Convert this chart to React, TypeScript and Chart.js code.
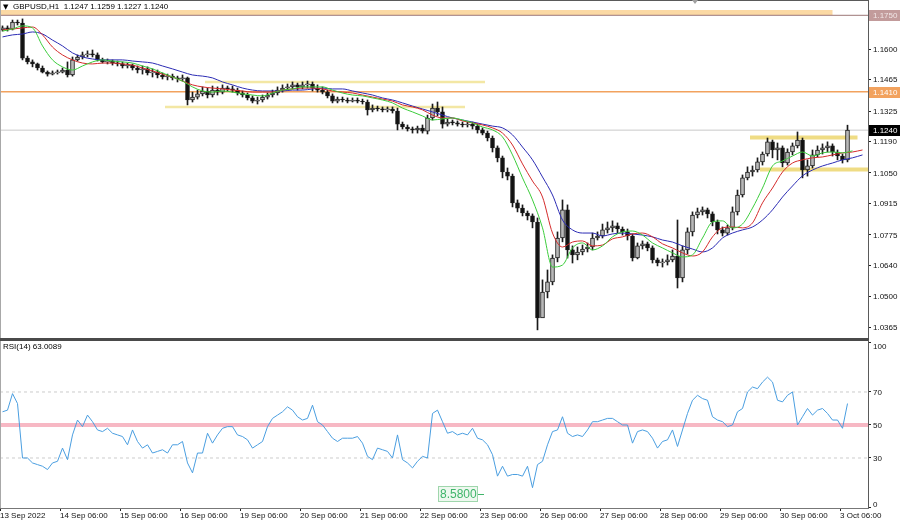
import React, { useEffect, useRef } from "react";
import { Chart, registerables } from "chart.js";

Chart.register(...registerables);

const FONT = '"Liberation Sans", Arial, sans-serif';

// ---------- data ----------
const symbolTitle = "GBPUSD,H1  1.1247 1.1259 1.1227 1.1240";
const rsiTitle = "RSI(14) 63.0089";

// two-hour candles (index i -> hour 1 + 2i from 13 Sep 06:00)
const openP = [
  1.1685, 1.1694, 1.1689, 1.1720, 1.1716, 1.1560, 1.1543, 1.1534, 1.1516, 1.1498,
  1.1489, 1.1494, 1.1498, 1.1507, 1.1485, 1.1552, 1.1565, 1.1574, 1.1578, 1.1574,
  1.1552, 1.1543, 1.1547, 1.1538, 1.1534, 1.1525, 1.1529, 1.1516, 1.1507, 1.1512,
  1.1494, 1.1498, 1.1485, 1.1476, 1.1480, 1.1472, 1.1467, 1.1472, 1.1374, 1.1387,
  1.1401, 1.1414, 1.1396, 1.1418, 1.1409, 1.1427, 1.1423, 1.1418, 1.1405, 1.1396,
  1.1383, 1.1369, 1.1374, 1.1387, 1.1396, 1.1405, 1.1418, 1.1427, 1.1432, 1.1441,
  1.1432, 1.1441, 1.1445, 1.1427, 1.1418, 1.1409, 1.1392, 1.1369, 1.1378, 1.1374,
  1.1369, 1.1374, 1.1369, 1.1365, 1.1330, 1.1338, 1.1334, 1.1330, 1.1334, 1.1325,
  1.1267, 1.1254, 1.1245, 1.1241, 1.1249, 1.1236, 1.1294, 1.1338, 1.1321, 1.1267,
  1.1276, 1.1272, 1.1267, 1.1263, 1.1267, 1.1258, 1.1241, 1.1227, 1.1205, 1.1161,
  1.1117, 1.1054, 1.1036, 1.0917, 1.0894, 1.0872, 1.0859, 1.0832, 1.0406, 1.0521,
  1.0566, 1.0672, 1.0761, 1.0886, 1.0708, 1.0686, 1.0699, 1.0712, 1.0721, 1.0761,
  1.0770, 1.0797, 1.0806, 1.0815, 1.0801, 1.0788, 1.0770, 1.0672, 1.0726, 1.0735,
  1.0717, 1.0664, 1.0650, 1.0655, 1.0664, 1.0681, 1.0584, 1.0708, 1.0788, 1.0863,
  1.0877, 1.0886, 1.0868, 1.0832, 1.0797, 1.0783, 1.0806, 1.0877, 1.0952, 1.1028,
  1.1054, 1.1063, 1.1099, 1.1134, 1.1188, 1.1152, 1.1161, 1.1094, 1.1143, 1.1170,
  1.1196, 1.1063, 1.1081, 1.1130, 1.1152, 1.1161, 1.1170, 1.1143, 1.1125, 1.1108,
];
const highP = [
  1.1703, 1.1703, 1.1729, 1.1729, 1.1734, 1.1569, 1.1552, 1.1538, 1.1525, 1.1503,
  1.1503, 1.1507, 1.1516, 1.1543, 1.1565, 1.1574, 1.1587, 1.1592, 1.1596, 1.1583,
  1.1560, 1.1556, 1.1552, 1.1547, 1.1543, 1.1538, 1.1534, 1.1525, 1.1525, 1.1521,
  1.1512, 1.1507, 1.1494, 1.1489, 1.1489, 1.1480, 1.1485, 1.1476, 1.1409, 1.1418,
  1.1432, 1.1427, 1.1436, 1.1432, 1.1441, 1.1436, 1.1436, 1.1427, 1.1414, 1.1405,
  1.1392, 1.1387, 1.1396, 1.1405, 1.1418, 1.1432, 1.1441, 1.1445, 1.1454, 1.1449,
  1.1454, 1.1458, 1.1454, 1.1441, 1.1432, 1.1418, 1.1401, 1.1387, 1.1387, 1.1383,
  1.1383, 1.1383, 1.1378, 1.1374, 1.1352, 1.1347, 1.1343, 1.1343, 1.1343, 1.1338,
  1.1276, 1.1263, 1.1254, 1.1258, 1.1263, 1.1307, 1.1356, 1.1365, 1.1343, 1.1290,
  1.1285, 1.1281, 1.1276, 1.1276, 1.1276, 1.1267, 1.1250, 1.1236, 1.1214, 1.1170,
  1.1125, 1.1072, 1.1045, 1.0930, 1.0908, 1.0881, 1.0868, 1.0850, 1.0575, 1.0619,
  1.0686, 1.0788, 1.0930, 1.0908, 1.0726, 1.0721, 1.0730, 1.0739, 1.0783, 1.0788,
  1.0823, 1.0832, 1.0837, 1.0828, 1.0810, 1.0801, 1.0779, 1.0739, 1.0748, 1.0743,
  1.0726, 1.0672, 1.0668, 1.0686, 1.0708, 1.0841, 1.0726, 1.0806, 1.0877, 1.0894,
  1.0899, 1.0894, 1.0877, 1.0841, 1.0810, 1.0819, 1.0899, 1.0974, 1.1041, 1.1077,
  1.1081, 1.1117, 1.1143, 1.1205, 1.1196, 1.1183, 1.1170, 1.1157, 1.1183, 1.1232,
  1.1205, 1.1108, 1.1152, 1.1170, 1.1179, 1.1188, 1.1179, 1.1152, 1.1134, 1.1262,
];
const lowP = [
  1.1680, 1.1680, 1.1685, 1.1707, 1.1552, 1.1534, 1.1521, 1.1507, 1.1494, 1.1480,
  1.1485, 1.1489, 1.1494, 1.1476, 1.1480, 1.1547, 1.1556, 1.1565, 1.1565, 1.1547,
  1.1538, 1.1534, 1.1529, 1.1525, 1.1516, 1.1516, 1.1507, 1.1494, 1.1489, 1.1485,
  1.1476, 1.1472, 1.1467, 1.1463, 1.1463, 1.1454, 1.1458, 1.1352, 1.1365, 1.1378,
  1.1392, 1.1383, 1.1387, 1.1396, 1.1401, 1.1414, 1.1409, 1.1396, 1.1387, 1.1374,
  1.1361, 1.1356, 1.1365, 1.1378, 1.1387, 1.1396, 1.1409, 1.1418, 1.1423, 1.1418,
  1.1423, 1.1427, 1.1414, 1.1409, 1.1401, 1.1383, 1.1361, 1.1361, 1.1365, 1.1361,
  1.1365, 1.1361, 1.1356, 1.1307, 1.1321, 1.1325, 1.1321, 1.1321, 1.1316, 1.1241,
  1.1245, 1.1236, 1.1227, 1.1227, 1.1227, 1.1223, 1.1285, 1.1303, 1.1249, 1.1258,
  1.1263, 1.1258, 1.1254, 1.1254, 1.1245, 1.1227, 1.1219, 1.1192, 1.1143, 1.1099,
  1.1028, 1.1019, 1.0899, 1.0877, 1.0859, 1.0841, 1.0806, 1.0353, 1.0464, 1.0495,
  1.0553, 1.0655, 1.0744, 1.0672, 1.0650, 1.0664, 1.0686, 1.0699, 1.0708, 1.0752,
  1.0761, 1.0783, 1.0788, 1.0783, 1.0774, 1.0752, 1.0659, 1.0668, 1.0712, 1.0704,
  1.0650, 1.0637, 1.0632, 1.0641, 1.0655, 1.0539, 1.0566, 1.0690, 1.0770, 1.0850,
  1.0863, 1.0850, 1.0815, 1.0779, 1.0770, 1.0774, 1.0797, 1.0863, 1.0943, 1.1019,
  1.1036, 1.1054, 1.1085, 1.1125, 1.1117, 1.1108, 1.1077, 1.1085, 1.1130, 1.1161,
  1.1028, 1.1036, 1.1072, 1.1121, 1.1134, 1.1143, 1.1125, 1.1108, 1.1094, 1.1099,
];
const closeP = [
  1.1694, 1.1689, 1.1720, 1.1716, 1.1560, 1.1543, 1.1534, 1.1516, 1.1498, 1.1489,
  1.1494, 1.1498, 1.1507, 1.1485, 1.1552, 1.1565, 1.1574, 1.1578, 1.1574, 1.1552,
  1.1543, 1.1547, 1.1538, 1.1534, 1.1525, 1.1529, 1.1516, 1.1507, 1.1512, 1.1494,
  1.1498, 1.1485, 1.1476, 1.1480, 1.1472, 1.1467, 1.1472, 1.1374, 1.1387, 1.1401,
  1.1414, 1.1396, 1.1418, 1.1409, 1.1427, 1.1423, 1.1418, 1.1405, 1.1396, 1.1383,
  1.1369, 1.1374, 1.1387, 1.1396, 1.1405, 1.1418, 1.1427, 1.1432, 1.1441, 1.1432,
  1.1441, 1.1445, 1.1427, 1.1418, 1.1409, 1.1392, 1.1369, 1.1378, 1.1374, 1.1369,
  1.1374, 1.1369, 1.1365, 1.1330, 1.1338, 1.1334, 1.1330, 1.1334, 1.1325, 1.1267,
  1.1254, 1.1245, 1.1241, 1.1249, 1.1236, 1.1294, 1.1338, 1.1321, 1.1267, 1.1276,
  1.1272, 1.1267, 1.1263, 1.1267, 1.1258, 1.1241, 1.1227, 1.1205, 1.1161, 1.1117,
  1.1054, 1.1036, 1.0917, 1.0894, 1.0872, 1.0859, 1.0832, 1.0406, 1.0521, 1.0566,
  1.0672, 1.0761, 1.0886, 1.0708, 1.0686, 1.0699, 1.0712, 1.0721, 1.0761, 1.0770,
  1.0797, 1.0806, 1.0815, 1.0801, 1.0788, 1.0770, 1.0672, 1.0726, 1.0735, 1.0717,
  1.0664, 1.0650, 1.0655, 1.0664, 1.0681, 1.0584, 1.0708, 1.0788, 1.0863, 1.0877,
  1.0886, 1.0868, 1.0832, 1.0797, 1.0783, 1.0806, 1.0877, 1.0952, 1.1028, 1.1054,
  1.1063, 1.1099, 1.1134, 1.1188, 1.1152, 1.1161, 1.1094, 1.1143, 1.1170, 1.1196,
  1.1063, 1.1081, 1.1130, 1.1152, 1.1161, 1.1170, 1.1143, 1.1125, 1.1108, 1.1240,
];

// Alligator lines sampled every 4 hours (sample k -> hour 1 + 4k)
const lipsGreen = [
  1.1680, 1.1689, 1.1703, 1.1694, 1.1614, 1.1552, 1.1521, 1.1507, 1.1525, 1.1543,
  1.1552, 1.1547, 1.1543, 1.1538, 1.1525, 1.1512, 1.1494, 1.1476, 1.1458, 1.1432,
  1.1414, 1.1409, 1.1414, 1.1409, 1.1401, 1.1396, 1.1392, 1.1405, 1.1418, 1.1423,
  1.1432, 1.1432, 1.1432, 1.1418, 1.1405, 1.1396, 1.1392, 1.1383, 1.1374, 1.1361,
  1.1338, 1.1321, 1.1303, 1.1285, 1.1290, 1.1294, 1.1285, 1.1272, 1.1254, 1.1241,
  1.1210, 1.1130, 1.1028, 1.0930, 1.0806, 1.0632, 1.0641, 1.0717, 1.0739, 1.0708,
  1.0726, 1.0766, 1.0788, 1.0792, 1.0774, 1.0739, 1.0717, 1.0695, 1.0677, 1.0686,
  1.0761, 1.0832, 1.0837, 1.0806, 1.0823, 1.0894, 1.0983, 1.1081, 1.1103, 1.1125,
  1.1143, 1.1125, 1.1139, 1.1143, 1.1139, 1.1148, null,
];
const teethRed = [
  1.1685, 1.1689, 1.1694, 1.1698, 1.1663, 1.1609, 1.1574, 1.1552, 1.1538, 1.1534,
  1.1538, 1.1538, 1.1534, 1.1529, 1.1516, 1.1503, 1.1489, 1.1476, 1.1458, 1.1441,
  1.1432, 1.1427, 1.1423, 1.1418, 1.1414, 1.1409, 1.1409, 1.1409, 1.1418, 1.1423,
  1.1427, 1.1427, 1.1423, 1.1414, 1.1409, 1.1405, 1.1396, 1.1387, 1.1378, 1.1369,
  1.1352, 1.1343, 1.1330, 1.1307, 1.1294, 1.1294, 1.1281, 1.1272, 1.1263, 1.1250,
  1.1227, 1.1174, 1.1090, 1.1014, 1.0943, 1.0783, 1.0721, 1.0743, 1.0748, 1.0726,
  1.0730, 1.0757, 1.0766, 1.0779, 1.0783, 1.0766, 1.0735, 1.0717, 1.0695, 1.0681,
  1.0699, 1.0766, 1.0806, 1.0810, 1.0806, 1.0828, 1.0917, 1.0983, 1.1054, 1.1094,
  1.1108, 1.1117, 1.1121, 1.1130, 1.1139, 1.1143, 1.1152,
];
const jawBlue = [
  1.1654, 1.1663, 1.1667, 1.1676, 1.1667, 1.1640, 1.1614, 1.1583, 1.1565, 1.1556,
  1.1552, 1.1552, 1.1552, 1.1547, 1.1543, 1.1538, 1.1525, 1.1512, 1.1498, 1.1485,
  1.1480, 1.1472, 1.1454, 1.1441, 1.1427, 1.1418, 1.1414, 1.1414, 1.1414, 1.1418,
  1.1418, 1.1423, 1.1427, 1.1423, 1.1423, 1.1414, 1.1405, 1.1396, 1.1383, 1.1374,
  1.1361, 1.1347, 1.1334, 1.1321, 1.1307, 1.1294, 1.1285, 1.1276, 1.1267, 1.1258,
  1.1250, 1.1219, 1.1165, 1.1108, 1.1032, 1.0952, 1.0841, 1.0797, 1.0783, 1.0783,
  1.0770, 1.0779, 1.0783, 1.0779, 1.0774, 1.0766, 1.0752, 1.0743, 1.0726, 1.0712,
  1.0699, 1.0717, 1.0761, 1.0783, 1.0797, 1.0810, 1.0841, 1.0886, 1.0943, 1.0992,
  1.1037, 1.1063, 1.1081, 1.1094, 1.1108, 1.1117, 1.1130,
];

// RSI(14), one value per candle
const rsi14 = [
  58, 59, 69, 63, 30, 30, 27, 26, 25, 23,
  27, 28, 36, 29, 44, 53, 49, 56, 52, 47,
  46, 48, 45, 44, 43, 38, 47, 40, 36, 38,
  33, 34, 35, 33, 38, 38, 40, 27, 21, 33,
  33, 45, 39, 44, 48, 49, 49, 44, 43, 41,
  36, 38, 40, 49, 54, 56, 58, 61, 59, 55,
  53, 54, 62, 52, 50, 46, 42, 40, 42, 42,
  42, 43, 39, 31, 29, 36, 35, 34, 30, 44,
  29, 27, 24, 28, 31, 30, 57, 59, 52, 45,
  46, 44, 45, 44, 48, 42, 41, 38, 32, 19,
  25, 19, 20, 20, 19, 25, 12, 26, 28, 38,
  46, 47, 55, 45, 43, 44, 43, 47, 52, 52,
  53, 54, 54, 52, 50, 50, 39, 46, 47, 46,
  42, 36, 40, 41, 47, 37, 47, 57, 65, 68,
  66, 65, 55, 53, 52, 49, 50, 58, 60, 70,
  73, 72, 76, 79, 76, 65, 64, 68, 70, 50,
  55, 60, 56, 59, 60, 57, 53, 53, 48, 63,
];

// time axis (hours after 13 Sep 06:00)
const dayTickHours = [0, 24, 48, 72, 96, 120, 144, 168, 192, 216, 240, 264, 288, 312, 336];
const dateLabels = [
  "13 Sep 2022", "14 Sep 06:00", "15 Sep 06:00", "16 Sep 06:00", "19 Sep 06:00",
  "20 Sep 06:00", "21 Sep 06:00", "22 Sep 06:00", "23 Sep 06:00", "26 Sep 06:00",
  "27 Sep 06:00", "28 Sep 06:00", "29 Sep 06:00", "30 Sep 06:00", "3 Oct 06:00",
];
const priceTicks = [1.16, 1.1465, 1.1325, 1.119, 1.105, 1.0915, 1.0775, 1.064, 1.05, 1.0365];
const rsiTicks = [0, 30, 50, 70, 100];
const rsiLevels = [30, 50, 70];

// drawn zones (price, start hour, end hour)
const zonePrices = [1.1762, 1.1454, 1.1343, 1.1207, 1.1065];
const zoneStart = [0, 82, 66, 300, 304];
const zoneEnd = [333, 194, 186, 343, 348];
// full-width horizontal lines with axis tags
const tagLevels = [1.175, 1.141, 1.124];
const rsiMarkValue = 8.58;
const rsiMarkHour = 175.2;

const BAR_HOURS = 2;
const MA_STEP_HOURS = 4;
const X_MIN = 0;
const X_MAX = 347.2;
const P_MIN = 1.0308;
const P_MAX = 1.1818;
const R_MIN = -0.3;
const R_MAX = 101.5;

// ---------- styles ----------
const zoneColors = ["#fbd9a4", "#f3e7a4", "#f3e7a4", "#efdc84", "#efdc84"];
const zoneWidths = [5, 2.5, 2.5, 4, 4];
const tagLineColors = ["#9c7676", "#f2a25e", "#c9c9c9"];
const tagLineWidths = [1, 1.5, 1];
const tagBoxColors = ["#c29b9b", "#f2a25e", "#000000"];
const tagTextColors = ["#f1e6e6", "#ffffff", "#ffffff"];

const barHour = (i: number) => 1 + BAR_HOURS * i;
const maHour = (k: number) => 1 + MA_STEP_HOURS * k;

const fixedWidth = (s: any) => {
  s.width = 32;
};

const drawAxisLabels = (ctx: any, chart: any, values: number[], fmt: (v: number) => string) => {
  const { chartArea: a, scales } = chart;
  ctx.font = `8px ${FONT}`;
  ctx.textBaseline = "middle";
  ctx.textAlign = "left";
  ctx.fillStyle = "#111";
  values.forEach((v) => {
    let py = scales.y.getPixelForValue(v);
    py = Math.max(6, Math.min(a.bottom - 4, py));
    ctx.fillText(fmt(v), a.right + 5, py + 0.5);
  });
};

const mainDecor = {
  id: "mainDecor",
  afterDraw(chart: any) {
    const { ctx, chartArea: a, scales } = chart;
    const y = scales.y;
    ctx.save();
    ctx.fillStyle = "#a8a8a8";
    ctx.fillRect(a.left, 0, 1, a.bottom);
    ctx.fillStyle = "#5a5a5a";
    ctx.fillRect(a.left, 0, a.right - a.left + 1, 1);
    ctx.fillRect(a.right, 0, 1, a.bottom);
    ctx.fillStyle = "#4a4a4a";
    ctx.fillRect(a.left, a.bottom - 2, a.right - a.left + 1, 2);
    // shift marker
    ctx.fillStyle = "#a0a0a0";
    ctx.beginPath();
    const tx = a.right - 173;
    ctx.moveTo(tx - 3, 0);
    ctx.lineTo(tx + 3, 0);
    ctx.lineTo(tx, 4);
    ctx.closePath();
    ctx.fill();
    drawAxisLabels(ctx, chart, priceTicks, (v) => v.toFixed(4));
    // axis tags
    ctx.font = `8px ${FONT}`;
    ctx.textBaseline = "middle";
    ctx.textAlign = "left";
    tagLevels.forEach((p, i) => {
      const py = Math.round(y.getPixelForValue(p));
      ctx.fillStyle = tagBoxColors[i];
      ctx.fillRect(a.right + 1, py - 5, chart.width - a.right - 1, 11);
      ctx.fillStyle = tagTextColors[i];
      ctx.fillText(p.toFixed(4), a.right + 5, py + 0.5);
    });
    // title
    ctx.fillStyle = "#000";
    ctx.font = `7px "DejaVu Sans", sans-serif`;
    ctx.fillText("▼", a.left + 3, 7);
    ctx.font = `8px ${FONT}`;
    ctx.fillText(symbolTitle, a.left + 13, 7);
    ctx.restore();
  },
};

const rsiDecor = {
  id: "rsiDecor",
  afterDraw(chart: any) {
    const { ctx, chartArea: a, scales } = chart;
    ctx.save();
    ctx.fillStyle = "#a8a8a8";
    ctx.fillRect(a.left, 0, 1, a.bottom);
    ctx.fillStyle = "#4a4a4a";
    ctx.fillRect(a.left, 0, a.right - a.left + 1, 1);
    ctx.fillStyle = "#5a5a5a";
    ctx.fillRect(a.right, 0, 1, a.bottom + 1);
    ctx.fillStyle = "#777";
    ctx.fillRect(a.left, a.bottom, a.right - a.left + 1, 1);
    drawAxisLabels(ctx, chart, rsiTicks, (v) => String(v));
    ctx.fillStyle = "#000";
    ctx.font = `8px ${FONT}`;
    ctx.textBaseline = "middle";
    ctx.textAlign = "left";
    ctx.fillText(rsiTitle, a.left + 3, 7);
    // green value tag
    const bx = Math.round(scales.x.getPixelForValue(rsiMarkHour));
    const by = Math.round(scales.y.getPixelForValue(rsiMarkValue)) + 1;
    ctx.font = `12px ${FONT}`;
    const txt = rsiMarkValue.toFixed(4);
    const w = Math.ceil(ctx.measureText(txt).width) + 3;
    ctx.fillStyle = "#eef8ef";
    ctx.fillRect(bx, by - 8, w, 16);
    ctx.strokeStyle = "#9fd6ac";
    ctx.lineWidth = 1;
    ctx.strokeRect(bx + 0.5, by - 7.5, w - 1, 15);
    ctx.fillStyle = "#3fb56a";
    ctx.fillText(txt, bx + 2, by + 0.5);
    ctx.fillRect(bx + w, by, 6, 1);
    ctx.restore();
  },
};

export default function App() {
  const mainRef = useRef<HTMLCanvasElement | null>(null);
  const rsiRef = useRef<HTMLCanvasElement | null>(null);

  useEffect(() => {
    if (!mainRef.current || !rsiRef.current) return;
    Chart.defaults.font.family = FONT;

    const zoneSets = zonePrices.map((p, i) => ({
      type: "line" as const,
      data: [
        { x: zoneStart[i], y: p },
        { x: zoneEnd[i], y: p },
      ],
      borderColor: zoneColors[i],
      borderWidth: zoneWidths[i],
      pointRadius: 0,
      borderCapStyle: "butt" as const,
      order: 20,
    }));
    const tagSets = tagLevels.map((p, i) => ({
      type: "line" as const,
      data: [
        { x: X_MIN, y: p },
        { x: X_MAX, y: p },
      ],
      borderColor: tagLineColors[i],
      borderWidth: tagLineWidths[i],
      pointRadius: 0,
      order: 19,
    }));
    const wicks = closeP.map((c, i) => ({ x: barHour(i), y: [lowP[i], highP[i]] }));
    const bodies = closeP.map((c, i) => ({ x: barHour(i), y: [openP[i], c] }));
    const bodyFill = closeP.map((c, i) => (c >= openP[i] ? "#b8b8b8" : "#111111"));
    const maLine = (vals: (number | null)[], color: string, order: number) => ({
      type: "line" as const,
      data: vals.map((v, k) => ({ x: maHour(k), y: v })),
      borderColor: color,
      borderWidth: 1,
      pointRadius: 0,
      cubicInterpolationMode: "monotone" as const,
      order,
    });

    const yAxisBase = {
      type: "linear",
      position: "right",
      afterFit: fixedWidth,
      ticks: { display: false },
      grid: { drawOnChartArea: false, tickLength: 3, color: "#222" },
      border: { display: false },
    };

    const main = new Chart(mainRef.current, {
      type: "bar",
      data: {
        datasets: [
          ...zoneSets,
          ...tagSets,
          {
            type: "bar",
            data: wicks as any,
            backgroundColor: "#1a1a1a",
            barThickness: 1,
            grouped: false,
            order: 6,
          },
          {
            type: "bar",
            data: bodies as any,
            backgroundColor: bodyFill,
            borderColor: "#1a1a1a",
            borderWidth: 1,
            borderSkipped: false,
            barThickness: 4,
            minBarLength: 1,
            grouped: false,
            order: 5,
          },
          maLine(jawBlue, "#2c2cb4", 3),
          maLine(teethRed, "#d42b2b", 2),
          maLine(lipsGreen, "#3ccc3c", 1),
        ] as any,
      },
      options: {
        responsive: false,
        animation: false,
        devicePixelRatio: 1,
        events: [],
        layout: { padding: 0, autoPadding: false },
        plugins: { legend: { display: false }, tooltip: { enabled: false } },
        scales: {
          x: {
            type: "linear",
            min: X_MIN,
            max: X_MAX,
            display: false,
            offset: false,
            grid: { offset: false },
          },
          y: {
            ...yAxisBase,
            min: P_MIN,
            max: P_MAX,
            afterBuildTicks: (s: any) => {
              s.ticks = priceTicks.map((v) => ({ value: v }));
            },
          },
        },
      } as any,
      plugins: [mainDecor],
    });

    const hline = (v: number, color: string, width: number, dash: number[], order: number) => ({
      data: [
        { x: X_MIN, y: v },
        { x: X_MAX, y: v },
      ],
      borderColor: color,
      borderWidth: width,
      borderDash: dash,
      pointRadius: 0,
      order,
    });

    const rsi = new Chart(rsiRef.current, {
      type: "line",
      data: {
        datasets: [
          ...rsiLevels.map((v) =>
            v === 50 ? hline(v, "#f7b8c4", 4, [], 9) : hline(v, "#cccccc", 1, [3, 3], 10)
          ),
          {
            data: rsi14.map((v, i) => ({ x: barHour(i), y: v })),
            borderColor: "#4a9ee0",
            borderWidth: 1,
            pointRadius: 0,
            order: 0,
          },
        ] as any,
      },
      options: {
        responsive: false,
        animation: false,
        devicePixelRatio: 1,
        events: [],
        layout: { padding: 0, autoPadding: false },
        plugins: { legend: { display: false }, tooltip: { enabled: false } },
        scales: {
          x: {
            type: "linear",
            min: X_MIN,
            max: X_MAX,
            offset: false,
            afterFit: (s: any) => {
              s.height = 15;
            },
            afterBuildTicks: (s: any) => {
              s.ticks = dayTickHours.map((v) => ({ value: v }));
            },
            ticks: {
              autoSkip: false,
              maxRotation: 0,
              align: "start",
              callback: (_v: any, i: number) => dateLabels[i],
              font: { size: 8, family: FONT },
              color: "#111",
              padding: 0,
            },
            grid: { drawOnChartArea: false, tickLength: 3, color: "#222" },
            border: { display: false },
          },
          y: {
            ...yAxisBase,
            min: R_MIN,
            max: R_MAX,
            afterBuildTicks: (s: any) => {
              s.ticks = rsiTicks.map((v) => ({ value: v }));
            },
          },
        },
      } as any,
      plugins: [rsiDecor],
    });

    return () => {
      main.destroy();
      rsi.destroy();
    };
  }, []);

  return (
    <div
      style={{
        position: "absolute",
        left: 0,
        top: 0,
        width: 900,
        height: 523,
        background: "#ffffff",
        overflow: "hidden",
      }}
    >
      <canvas
        ref={mainRef}
        width={900}
        height={340}
        style={{ position: "absolute", left: 0, top: 0, width: 900, height: 340, display: "block" }}
      />
      <canvas
        ref={rsiRef}
        width={900}
        height={183}
        style={{ position: "absolute", left: 0, top: 340, width: 900, height: 183, display: "block" }}
      />
    </div>
  );
}
